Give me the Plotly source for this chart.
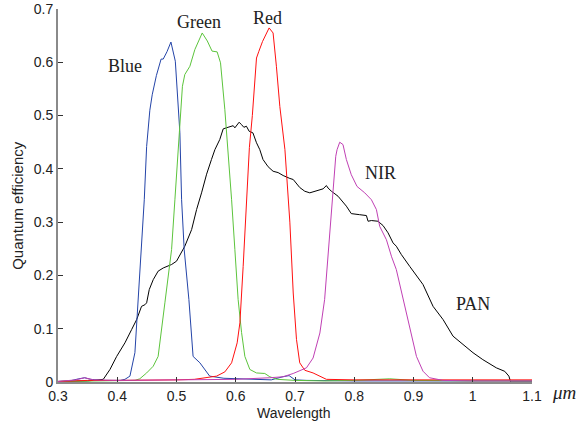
import plotly.graph_objects as go

# ---- data (wavelength in µm, quantum efficiency) ----
blue_x = [0.30,0.32,0.335,0.345,0.355,0.37,0.39,0.405,0.413,0.4214,0.4298,0.4344,0.441,0.4456,0.4496,0.455,0.459,0.466,0.474,0.4776,0.484,0.4906,0.498,0.5057,0.5086,0.513,0.5209,0.528,0.5395,0.556,0.58,0.62,0.66,0.68,0.69,0.70,0.72,0.8,0.9,1.0,1.1]
blue_y = [0.001,0.002,0.006,0.008,0.005,0.003,0.003,0.003,0.005,0.011,0.055,0.136,0.2486,0.342,0.442,0.51,0.539,0.575,0.606,0.606,0.62,0.638,0.602,0.468,0.342,0.2486,0.155,0.048,0.036,0.011,0.007,0.005,0.004,0.01,0.012,0.004,0.003,0.002,0.002,0.002,0.002]

green_x = [0.30,0.35,0.40,0.43,0.438,0.4496,0.4607,0.469,0.4804,0.4917,0.4973,0.5046,0.510,0.514,0.5226,0.531,0.5434,0.552,0.560,0.5686,0.5743,0.5816,0.5872,0.593,0.5985,0.604,0.6098,0.6154,0.6238,0.635,0.649,0.6575,0.67,0.70,0.75,0.80,0.86,0.9,1.0,1.1]
green_y = [0.001,0.002,0.002,0.003,0.006,0.017,0.0296,0.048,0.1486,0.2486,0.342,0.4675,0.555,0.577,0.5925,0.624,0.655,0.64,0.621,0.6195,0.599,0.511,0.436,0.342,0.2486,0.155,0.093,0.048,0.0235,0.017,0.016,0.0098,0.005,0.003,0.002,0.003,0.006,0.003,0.002,0.002]

red_x = [0.30,0.35,0.40,0.45,0.50,0.53,0.551,0.5676,0.5816,0.593,0.6024,0.607,0.6125,0.618,0.623,0.628,0.632,0.635,0.639,0.6452,0.6563,0.663,0.6686,0.6744,0.683,0.688,0.6913,0.697,0.7025,0.708,0.7165,0.7305,0.742,0.753,0.80,0.9,1.0,1.1]
red_y = [0.001,0.003,0.003,0.003,0.004,0.005,0.008,0.011,0.019,0.036,0.0735,0.111,0.217,0.342,0.44,0.50,0.561,0.608,0.6206,0.639,0.6645,0.655,0.5925,0.517,0.436,0.342,0.30,0.167,0.08,0.036,0.022,0.017,0.011,0.005,0.004,0.004,0.004,0.004]

nir_x = [0.30,0.33,0.345,0.36,0.40,0.50,0.55,0.60,0.6575,0.680,0.697,0.7193,0.7305,0.742,0.750,0.753,0.7558,0.7587,0.7643,0.7688,0.771,0.7755,0.781,0.7867,0.795,0.8047,0.8177,0.829,0.8374,0.843,0.8543,0.863,0.871,0.8823,0.8936,0.905,0.916,0.927,0.95,1.0,1.1]
nir_y = [0.001,0.004,0.008,0.004,0.003,0.004,0.005,0.005,0.008,0.0098,0.016,0.0266,0.045,0.092,0.155,0.1985,0.2486,0.28,0.355,0.4236,0.436,0.45,0.4456,0.4175,0.389,0.367,0.355,0.342,0.3236,0.292,0.267,0.235,0.211,0.155,0.0985,0.048,0.0203,0.008,0.003,0.002,0.002]

pan_x = [0.30,0.35,0.3764,0.3877,0.399,0.413,0.4243,0.4327,0.441,0.4467,0.4496,0.454,0.4607,0.469,0.4776,0.4917,0.5,0.5086,0.514,0.5255,0.5339,0.5423,0.5508,0.559,0.5648,0.573,0.5788,0.587,0.5957,0.5985,0.6057,0.6097,0.6137,0.618,0.6226,0.629,0.635,0.6406,0.646,0.6546,0.663,0.6715,0.680,0.6913,0.697,0.708,0.7165,0.725,0.7334,0.7474,0.753,0.7558,0.7615,0.7727,0.7867,0.795,0.809,0.8205,0.8233,0.829,0.840,0.8486,0.857,0.8655,0.871,0.8796,0.8936,0.905,0.916,0.933,0.95,0.9667,0.9836,1.0004,1.017,1.0398,1.054,1.061,1.064,1.1]
pan_y = [0.001,0.002,0.005,0.0235,0.048,0.0735,0.0985,0.117,0.142,0.145,0.1486,0.1735,0.192,0.208,0.214,0.2205,0.2267,0.2424,0.2548,0.286,0.3236,0.355,0.39,0.4175,0.436,0.455,0.475,0.478,0.481,0.477,0.4875,0.483,0.478,0.48,0.4706,0.4675,0.449,0.436,0.4175,0.404,0.3955,0.393,0.3875,0.382,0.38,0.365,0.358,0.355,0.358,0.3625,0.3687,0.364,0.358,0.3486,0.33,0.316,0.314,0.3124,0.3017,0.303,0.3017,0.2936,0.28,0.261,0.2548,0.239,0.217,0.1985,0.183,0.142,0.117,0.086,0.070,0.055,0.042,0.0266,0.020,0.011,0.0,0.0]

x_tickvals = [0.3,0.4,0.5,0.6,0.7,0.8,0.9,1.0,1.1]
x_ticktext = ["0.3","0.4","0.5","0.6","0.7","0.8","0.9","1","1.1"]
y_tickvals = [0,0.1,0.2,0.3,0.4,0.5,0.6,0.7]
y_ticktext = ["0","0.1","0.2","0.3","0.4","0.5","0.6","0.7"]

series = [
    ("PAN", pan_x, pan_y, "#000000"),
    ("Blue", blue_x, blue_y, "#2444a8"),
    ("Green", green_x, green_y, "#5cc43c"),
    ("Red", red_x, red_y, "#ff1010"),
    ("NIR", nir_x, nir_y, "#c040b4"),
]

labels = [("Blue", 0.413, 0.593), ("Green", 0.538, 0.6756), ("Red", 0.6536, 0.6825),
          ("NIR", 0.8451, 0.3913), ("PAN", 0.9996, 0.1462)]

fig = go.Figure()
for name, xs, ys, col in series:
    fig.add_trace(go.Scatter(x=xs, y=ys, mode="lines", name=name,
                             line=dict(color=col, width=1), showlegend=False))

serif = "Liberation Serif, Times New Roman, serif"
sans = "Liberation Sans, Arial, sans-serif"

for txt, x, y in labels:
    fig.add_annotation(x=x, y=y, text=txt, showarrow=False, xanchor="center", yanchor="middle",
                       font=dict(family=serif, size=18, color="#222"))

fig.add_annotation(xref="paper", yref="paper", x=1.0675, y=-0.028, text="<i>μm</i>",
                   xanchor="center", yanchor="middle",
                   showarrow=False, font=dict(family=serif, size=19, color="#222"))
fig.add_annotation(xref="paper", yref="paper", x=0.496, y=-0.082, text="Wavelength",
                   xanchor="center", yanchor="middle",
                   showarrow=False, font=dict(family=sans, size=14, color="#222"))
fig.add_annotation(xref="paper", yref="paper", x=-0.0844, y=0.475, text="Quantum efficiency",
                   xanchor="center", yanchor="middle",
                   textangle=-90, showarrow=False, font=dict(family=sans, size=15, color="#222"))

fig.update_layout(
    width=576, height=428,
    margin=dict(l=58, r=44, t=9, b=46),
    paper_bgcolor="white", plot_bgcolor="white",
    font=dict(family=sans, size=14, color="#222"),
    xaxis=dict(range=[0.3, 1.1], tickvals=x_tickvals, ticktext=x_ticktext, automargin=False,
               showgrid=False, zeroline=False, showline=True, linecolor="#8a8a8a",
               linewidth=2, ticks="inside", ticklen=5, tickcolor="#333",
               tickfont=dict(family=sans, size=14, color="#222")),
    yaxis=dict(range=[0, 0.7], tickvals=y_tickvals, ticktext=y_ticktext, automargin=False,
               showgrid=False, zeroline=False, showline=True, linecolor="#8a8a8a",
               linewidth=2, ticks="inside", ticklen=5, tickcolor="#333",
               tickfont=dict(family=sans, size=14, color="#222")),
)

fig.write_html("out.html", config={"displayModeBar": False},
               post_script="document.body.style.margin='0';")
